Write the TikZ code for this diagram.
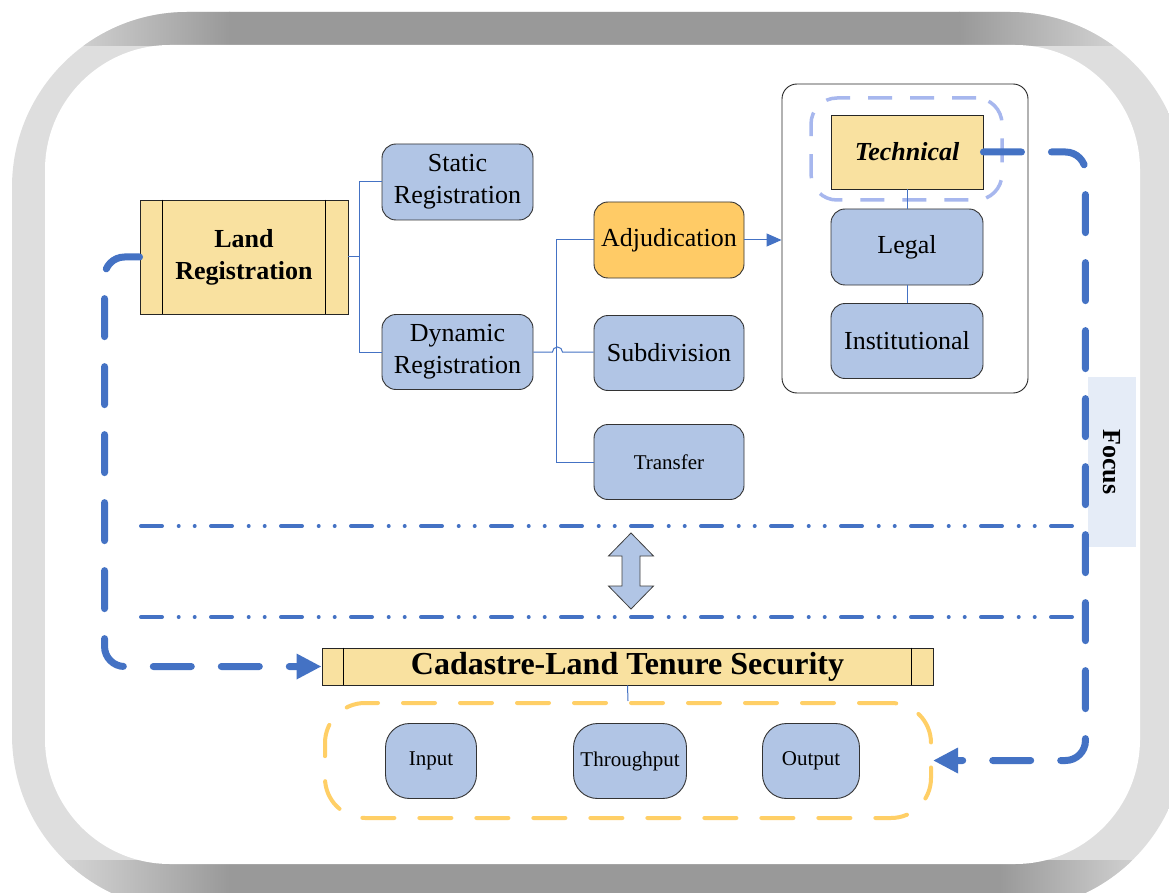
\documentclass[tikz,border=0pt]{standalone}
\usepackage{fontspec}
\setmainfont{Liberation Serif}
\usetikzlibrary{arrows.meta}

\definecolor{boxblue}{HTML}{B1C5E5}
\definecolor{boxgold}{HTML}{F9E1A0}
\definecolor{adjgold}{HTML}{FFCB66}
\definecolor{linkblue}{HTML}{4472C4}
\definecolor{techring}{HTML}{A7B7EE}
\definecolor{ioring}{HTML}{FFCF66}
\definecolor{focusfill}{HTML}{E5ECF7}
\definecolor{frameDark}{HTML}{999999}
\definecolor{frameLight}{HTML}{DEDEDE}
\newcommand{\bigtext}{\fontsize{26}{32}\selectfont}
\newcommand{\smalltext}{\fontsize{21}{25}\selectfont}
\newcommand{\titletext}{\fontsize{32}{36}\selectfont}

\begin{document}
\begin{tikzpicture}[x=1pt,y=-1pt,
    blockbox/.style={draw=black!80,line width=0.9pt,fill=boxblue,rounded corners=14pt,
        minimum width=151pt,minimum height=76pt,inner sep=0pt,align=center,font=\bigtext},
    smallbox/.style={blockbox,rounded corners=24pt,minimum height=75pt,font=\smalltext},
    goldbox/.style={draw=black!85,line width=0.9pt,fill=boxgold,inner sep=0pt,align=center},
    thinlink/.style={draw=linkblue,line width=1pt},
    focusline/.style={draw=linkblue,line width=7pt,line cap=round,
        dash pattern=on 38pt off 30pt,rounded corners=20pt},
    sepline/.style={draw=linkblue,line width=4pt,line cap=round,
        dash pattern=on 21pt off 16.7pt on 0pt off 16pt on 0pt off 16.3pt}]

\useasboundingbox (0,0) rectangle (1169,893);

% frame
\begin{scope}
  \clip[rounded corners=175pt] (12,12) rectangle (1185,910);
  \fill[frameLight] (0,0) rectangle (1169,893);
  \shade[left color=frameLight,right color=frameDark] (40,0) rectangle (230,46);
  \fill[frameDark] (229,0) rectangle (960,46);
  \shade[left color=frameDark,right color=frameLight] (959,0) rectangle (1150,46);
  \shade[left color=frameLight,right color=frameDark] (40,860) rectangle (230,900);
  \fill[frameDark] (229,860) rectangle (1000,900);
  \shade[left color=frameDark,right color=frameLight] (999,860) rectangle (1169,900);
\end{scope}
\fill[white,rounded corners=125pt] (45,45) rectangle (1140,864);

% registration tree
\node[goldbox,minimum width=208pt,minimum height=114pt,font=\bfseries\bigtext] (land) at (244,257) {Land\\Registration};
\draw[line width=0.9pt] ([xshift=23pt]land.north west) -- ([xshift=23pt]land.south west);
\draw[line width=0.9pt] ([xshift=-23pt]land.north east) -- ([xshift=-23pt]land.south east);

\node[blockbox] (static) at (457.5,182) {Static\\Registration};
\node[blockbox,minimum height=75pt] (dynamic) at (457.5,352) {Dynamic\\Registration};
\node[blockbox,minimum width=150pt,fill=adjgold] (adjud) at (669,240) {Adjudication};
\node[blockbox,minimum width=150pt,minimum height=75pt] (subdiv) at (669,353) {Subdivision};
\node[blockbox,minimum width=150pt,minimum height=75pt,font=\smalltext] (transfer) at (669,462) {Transfer};

\draw[thinlink] (land.east) -- ++(11,0) |- (static.west);
\draw[thinlink] (land.east) -- ++(11,0) |- (dynamic.west);
\draw[thinlink] (adjud.west) -- ++(-37,0) |- (transfer.west);
\draw[thinlink] (dynamic.east) -- ++(19,0) arc[start angle=180,end angle=0,radius=5pt] -- (subdiv.west |- dynamic.east);

% pillars
\node[draw=black!85,line width=0.9pt,fill=white,rounded corners=15pt,minimum width=246pt,minimum height=309pt] (pillars) at (905,238.5) {};
\node[draw=techring,line width=3.5pt,dash pattern=on 24pt off 18pt,rounded corners=26pt,minimum width=191pt,minimum height=102pt] (techzone) at (906.5,149) {};
\node[goldbox,minimum width=152pt,minimum height=74pt,font=\bfseries\itshape\bigtext] (tech) at (907,152) {Technical};
\node[blockbox,minimum width=152pt] (legal) at (907,247) {Legal};
\node[blockbox,minimum width=152pt,minimum height=75pt] (inst) at (907,341) {Institutional};

\draw[thinlink,-{Triangle[length=15pt,width=13pt]}] (adjud.east) -- (adjud.east -| pillars.west);
\draw[thinlink] (tech.south) -- (legal.north);
\draw[thinlink] (legal.south) -- (inst.north);

\node[fill=focusfill,rotate=-90,minimum width=170pt,minimum height=48pt,font=\bfseries\bigtext] (focus) at (1112,462) {Focus};

% separators
\draw[sepline] (141,526) -- (1072,526);
\draw[sepline] (141,617) -- (1072,617);
\filldraw[fill=boxblue,draw=black!75,line width=0.8pt] (631,533) -- (653.5,556) -- (640,556) -- (640,586) -- (653.5,586)
    -- (631,609) -- (608.5,586) -- (622,586) -- (622,556) -- (608.5,556) -- cycle;

% cadastre
\node[goldbox,minimum width=611pt,minimum height=37pt,font=\bfseries\titletext] (cadastre) at (627.5,666.5) {Cadastre-Land Tenure Security};
\draw[line width=0.9pt] ([xshift=22pt]cadastre.north west) -- ([xshift=22pt]cadastre.south west);
\draw[line width=0.9pt] ([xshift=-22pt]cadastre.north east) -- ([xshift=-22pt]cadastre.south east);

\node[draw=ioring,line width=4pt,line cap=round,dash pattern=on 32pt off 25pt,rounded corners=40pt,minimum width=606pt,minimum height=115pt] (iobox) at (628,760.5) {};
\draw[thinlink] (cadastre.south) -- (iobox.north);
\node[smallbox,minimum width=91pt] (input) at (431,761) {Input};
\node[smallbox,minimum width=113pt] (through) at (630,761) {Throughput};
\node[smallbox,minimum width=97pt] (output) at (811,761) {Output};

% focus loops
\draw[focusline,-{Triangle[length=25pt,width=24pt]}] (land.west) -- ++(-35,0) |- (cadastre.west);
\draw[focusline,-{Triangle[length=25pt,width=24pt]}] (tech.east) -- ++(102,0) |- (iobox.east);
\end{tikzpicture}
\end{document}
